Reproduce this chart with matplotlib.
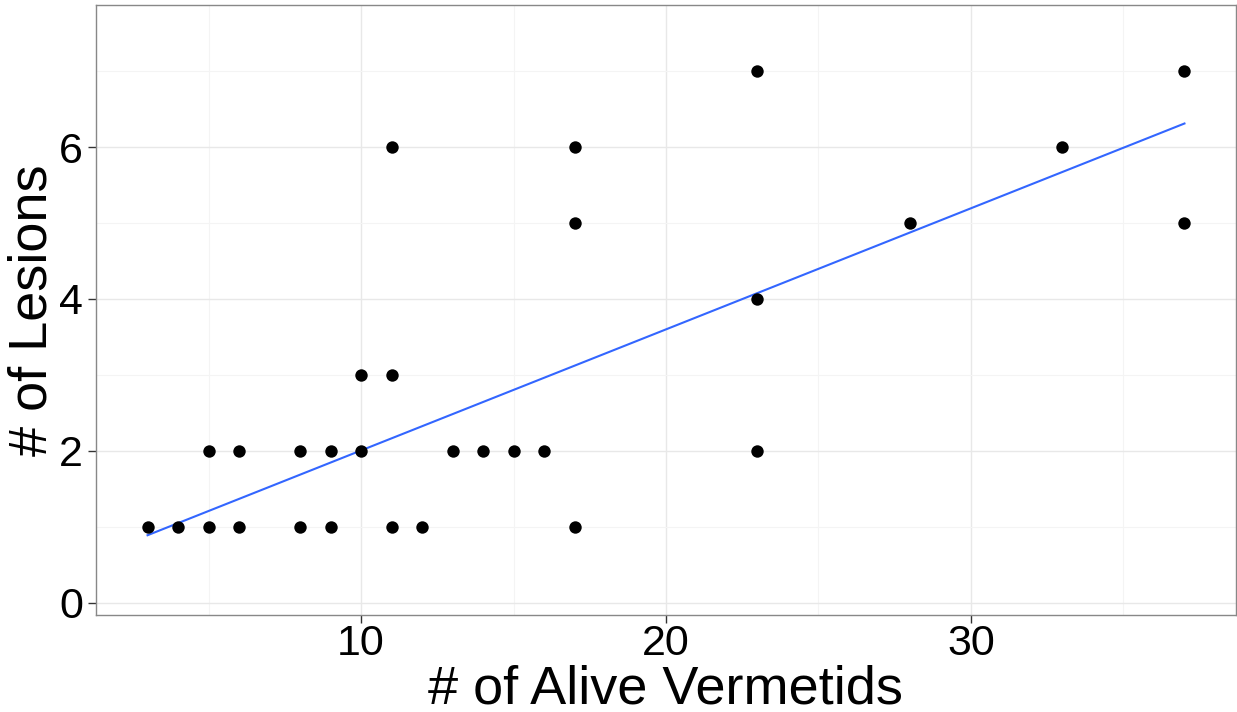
import matplotlib
matplotlib.use('Agg')
import matplotlib.pyplot as plt

# alive vermetids vs lesions
alive = [3, 4, 5, 5, 6, 6, 8, 8, 9, 9, 10, 10, 11, 11, 11, 12, 13, 14, 15, 16,
         17, 17, 17, 23, 23, 23, 28, 33, 37, 37]
lesions = [1, 1, 1, 2, 1, 2, 1, 2, 1, 2, 2, 3, 1, 3, 6, 1, 2, 2, 2, 2,
           1, 5, 6, 2, 4, 7, 5, 6, 5, 7]

# regression line as drawn in the original (ends)
fit_x = [3, 37]
fit_y = [0.89, 6.31]

plt.rcParams['font.family'] = ['Liberation Sans', 'DejaVu Sans']

fig = plt.figure(figsize=(12.37, 7.12), dpi=100)
ax = fig.add_axes([96 / 1237, 97 / 712, 1140 / 1237, 610 / 712])

ax.plot(fit_x, fit_y, color='#3366FF', lw=1.5, zorder=3)
ax.scatter(alive, lesions, s=80, color='black', zorder=4, linewidths=0)

ax.set_xlim(1.31, 38.69)
ax.set_ylim(-0.16, 7.87)
ax.set_xticks([10, 20, 30])
ax.set_yticks([0, 2, 4, 6])
ax.set_xticks([5, 15, 25, 35], minor=True)
ax.set_yticks([1, 3, 5, 7], minor=True)
ax.grid(True, which='major', color='#E8E8E8', lw=1.0)
ax.grid(True, which='minor', color='#F4F4F4', lw=0.8)
ax.set_axisbelow(True)
ax.tick_params(which='minor', length=0)
ax.tick_params(axis='y', which='major', length=5.5, width=1, color='#333333',
               labelsize=31, pad=4)
ax.tick_params(axis='x', which='major', length=5.5, width=1, color='#333333',
               labelsize=31, pad=1)
for s in ax.spines.values():
    s.set_color('#888888')
    s.set_linewidth(1)

ax.set_xlabel('# of Alive Vermetids', fontsize=39, labelpad=0)
ax.set_ylabel('# of Lesions', fontsize=39, labelpad=1)

fig.savefig('out.png', dpi=100)
plt.close(fig)
